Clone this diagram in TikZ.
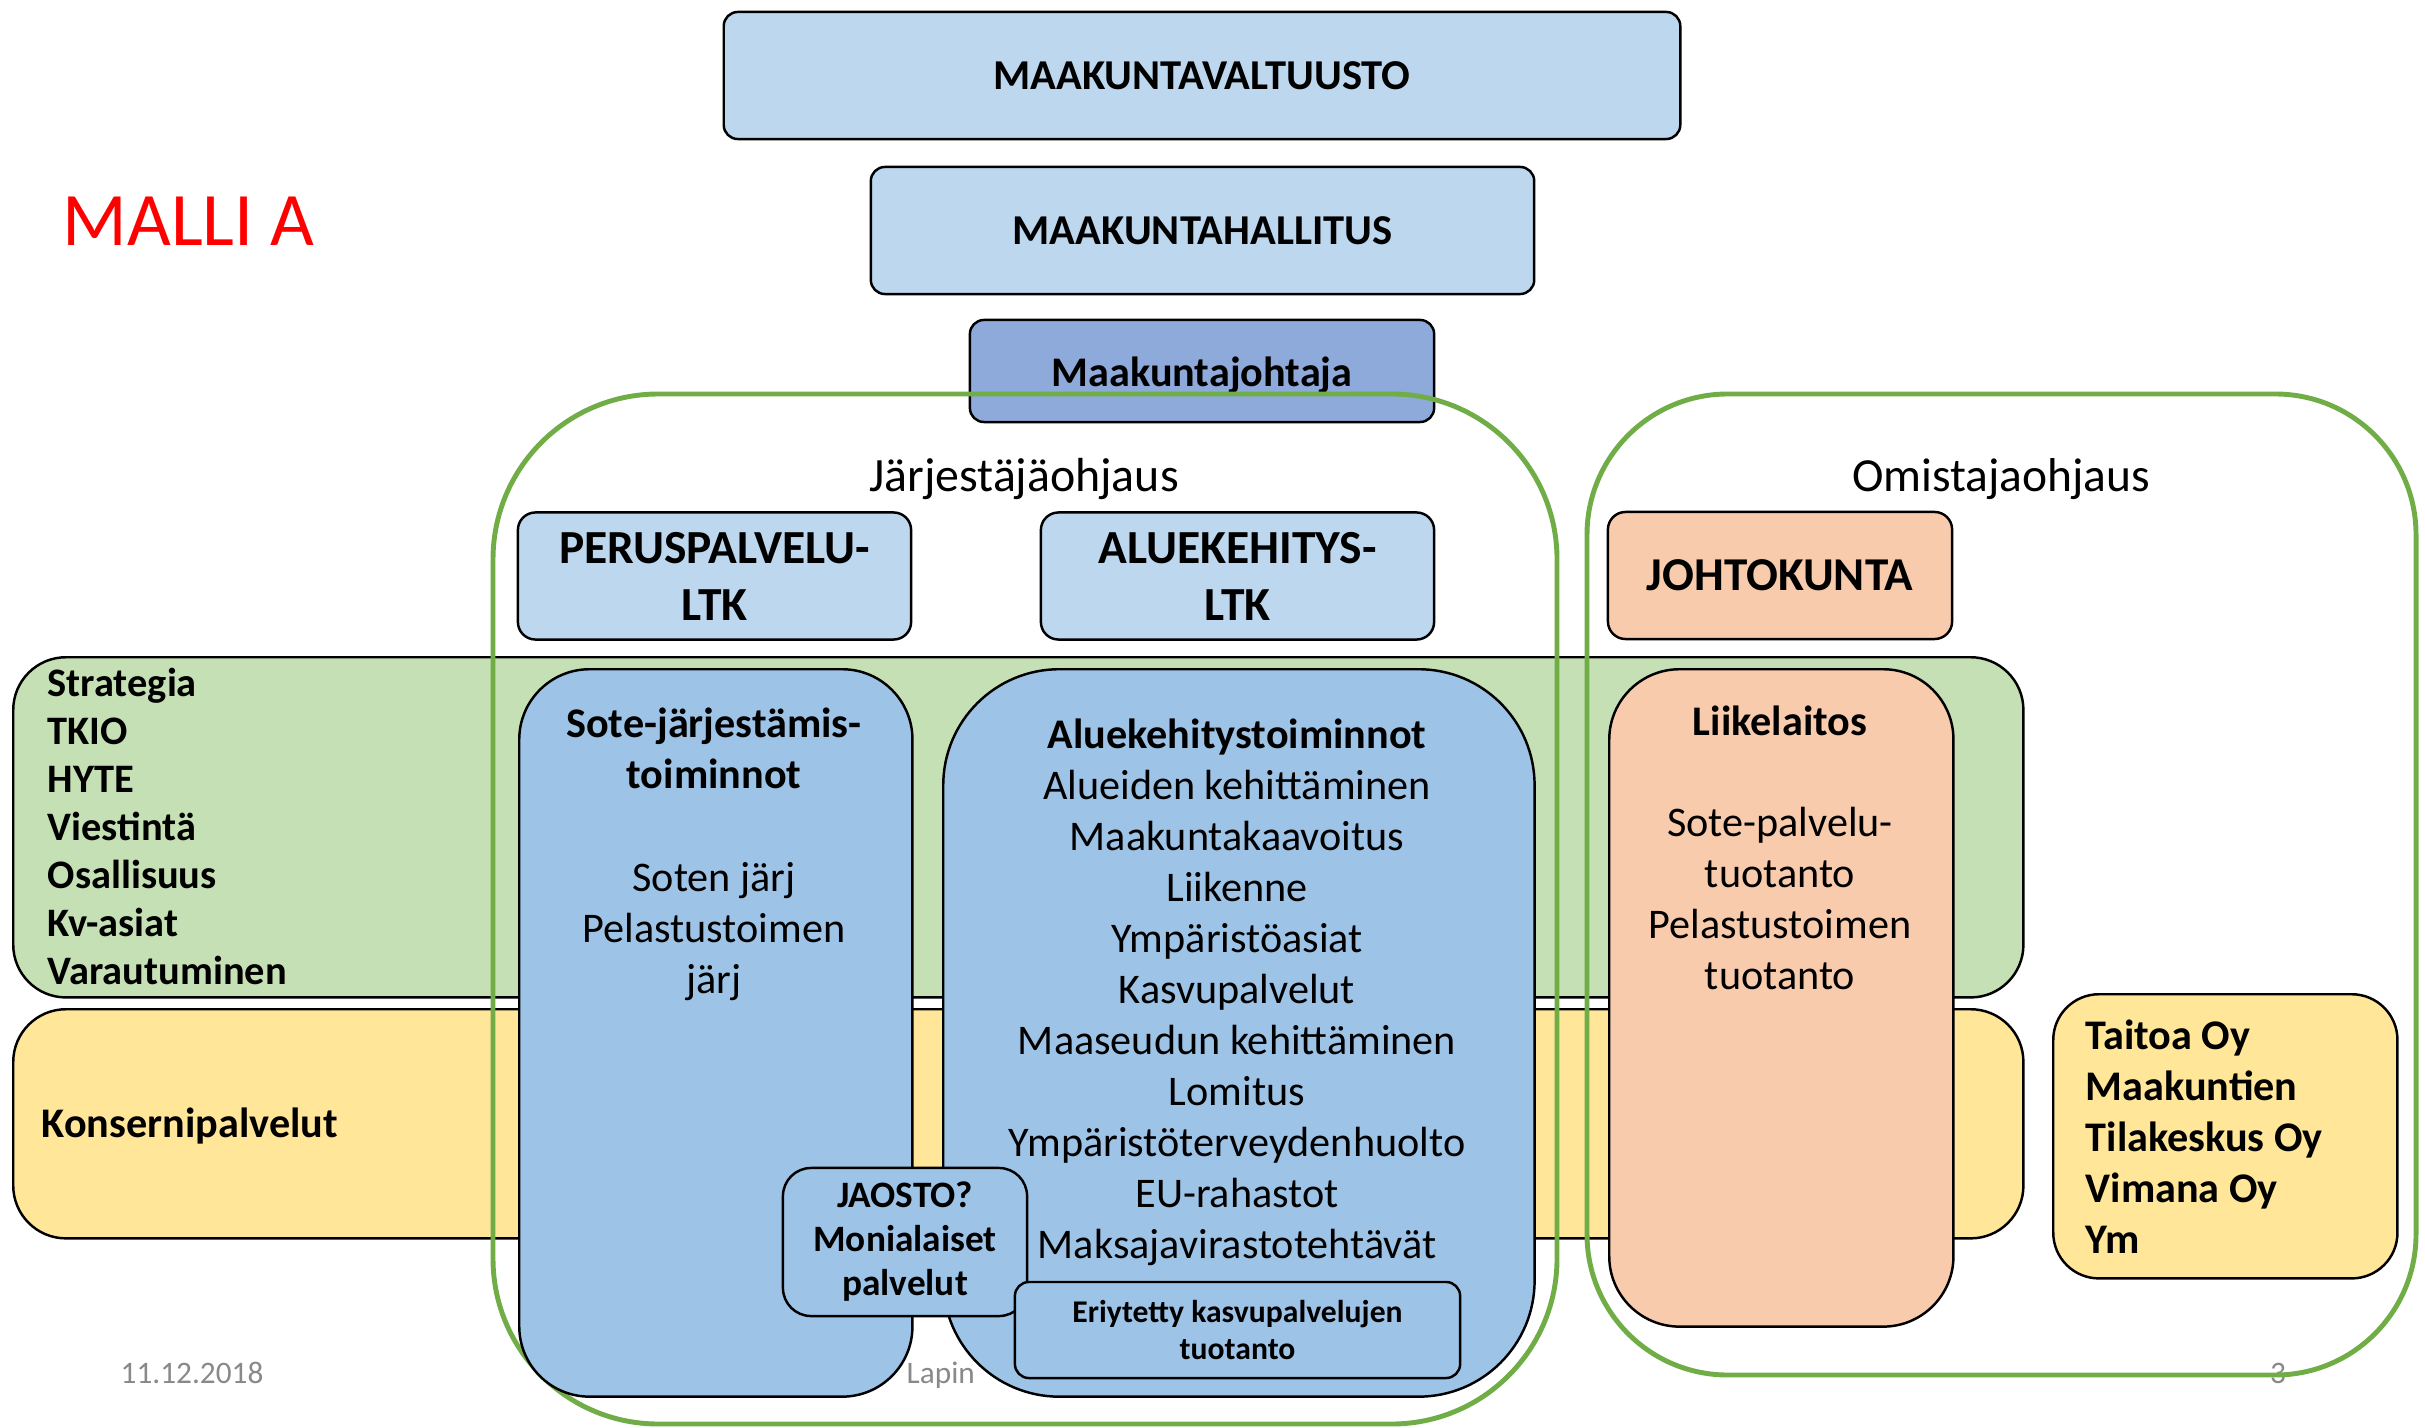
\documentclass[tikz,border=0pt]{standalone}
\usepackage{fontspec}
\setmainfont{Carlito}

\definecolor{topblue}{HTML}{BDD7EE}
\definecolor{midblue}{HTML}{9DC3E6}
\definecolor{darkblue}{HTML}{8EAADB}
\definecolor{bandgreen}{HTML}{C5E0B4}
\definecolor{bandyellow}{HTML}{FFE699}
\definecolor{peach}{HTML}{F8CBAD}
\definecolor{linegreen}{HTML}{70AD47}
\definecolor{footgray}{HTML}{898989}

\begin{document}
\begin{tikzpicture}[x=0.01cm,y=-0.01cm,
  box/.style={draw=black,line width=0.7pt,inner sep=0pt,align=center},
  topbox/.style={box,fill=topblue,rounded corners=4pt,minimum height=1.27cm,font=\fontsize{12.1}{14.5}\selectfont\bfseries},
  ltkbox/.style={box,fill=topblue,rounded corners=5pt,minimum width=3.93cm,minimum height=1.27cm,font=\fontsize{13.5}{16.2}\selectfont\bfseries},
  band/.style={box,rounded corners=15pt,minimum width=20.09cm,anchor=north west},
  tallbox/.style={box,anchor=north west},
  frame/.style={draw=linegreen,line width=1.4pt},
  head/.style={anchor=base,font=\fontsize{12}{14.5}\selectfont\bfseries},
  body/.style={anchor=base,font=\fontsize{12}{14.5}\selectfont},
  listtxt/.style={anchor=base west,inner sep=0pt,font=\fontsize{11.5}{14}\selectfont\bfseries},
  foot/.style={anchor=base,text=footgray,font=\fontsize{8.9}{11}\selectfont}]
\useasboundingbox (0,0) rectangle (2425,1428);

% Footer
\node[foot] (date) at (192,1383) {11.12.2018};
\node[foot,anchor=base west,inner sep=0pt] (lapin) at (906,1383) {Lapin};
\node[foot] (page) at (2278,1383) {3};

% Title
\node[anchor=base west,inner sep=0pt,text=red,font=\fontsize{21.5}{25}\selectfont] (malli) at (62,246) {MALLI A};

% Top of the organisation
\node[topbox,minimum width=9.56cm] (valtuusto) at (1202,75.5) {MAAKUNTAVALTUUSTO};
\node[topbox,minimum width=6.63cm] (hallitus) at (1202.5,230.5) {MAAKUNTAHALLITUS};
\node[box,fill=darkblue,rounded corners=4pt,minimum width=4.64cm,minimum height=1.02cm,
  text height=11.5pt,text depth=2.6pt,
  font=\fontsize{12}{14.5}\selectfont\bfseries] (johtaja) at (1202,371) {Maakuntajohtaja};

% Bands
\node[band,fill=bandgreen,minimum height=3.40cm] (green) at (12,656) {};
\node[band,fill=bandyellow,minimum height=2.29cm] (yellow) at (12,1008) {};
\foreach \t [count=\i] in {Strategia,TKIO,HYTE,Viestintä,Osallisuus,Kv-asiat,Varautuminen}
  \node[listtxt] (strat\i) at (47,{648+48*\i}) {\t};
\node[listtxt,font=\fontsize{12}{14.5}\selectfont\bfseries] (konserni) at (41,1137) {Konsernipalvelut};

% Ohjaus frames
\draw[frame,rounded corners=47pt] (493,394) rectangle (1557,1424);
\draw[frame,rounded corners=40pt] (1587,394) rectangle (2416,1375);
\node[anchor=base,font=\fontsize{13.6}{16}\selectfont] (jarj) at (1024,492) {Järjestäjäohjaus};
\node[anchor=base,font=\fontsize{13.5}{16}\selectfont] (omist) at (2001,492) {Omistajaohjaus};

% Lautakunnat
\node[ltkbox] (perus) at (714.5,576) {PERUSPALVELU-\\LTK};
\node[ltkbox] (alueltk) at (1237.5,576) {ALUEKEHITYS-\\LTK};
\node[ltkbox,fill=peach,minimum width=3.44cm,font=\fontsize{13.4}{16}\selectfont\bfseries] (johtokunta) at (1780,575.5) {JOHTOKUNTA};

% Toiminnot
\node[tallbox,fill=midblue,rounded corners=20pt,minimum width=3.93cm,minimum height=7.27cm] (sote) at (518,668) {};
\node[head,align=center] (sotehead) at (714,788) {Sote-järjestämis-\\toiminnot};
\foreach \t [count=\i] in {Soten järj,Pelastustoimen,järj}
  \node[body] (sote\i) at (714,{840+51*\i}) {\t};

\node[tallbox,fill=midblue,rounded corners=33pt,minimum width=5.91cm,minimum height=7.27cm] (alue) at (942,668) {};
\node[head] (aluehead) at (1237,748) {Aluekehitystoiminnot};
\foreach \t [count=\i] in {Alueiden kehittäminen,Maakuntakaavoitus,Liikenne,Ympäristöasiat,Kasvupalvelut,
  Maaseudun kehittäminen,Lomitus,Ympäristöterveydenhuolto,EU-rahastot,Maksajavirastotehtävät}
  \node[body] (alue\i) at (1237,{748+51*\i}) {\t};

\node[tallbox,fill=peach,rounded corners=20pt,minimum width=3.44cm,minimum height=6.57cm] (liike) at (1608,668) {};
\node[head] (liikehead) at (1780,735) {Liikelaitos};
\foreach \t [count=\i] in {Sote-palvelu-,tuotanto,Pelastustoimen,tuotanto}
  \node[body] (liike\i) at (1780,{785+51*\i}) {\t};

% Yhtiöt
\node[tallbox,fill=bandyellow,rounded corners=13pt,minimum width=3.44cm,minimum height=2.84cm] (yhtiot) at (2052,993) {};
\foreach \t [count=\i] in {Taitoa Oy,Maakuntien,Tilakeskus Oy,Vimana Oy,Ym}
  \node[listtxt,font=\fontsize{12}{14.5}\selectfont\bfseries] (yhtio\i) at (2085,{998+51*\i}) {\t};

% Small boxes
\node[box,fill=midblue,rounded corners=8pt,minimum width=2.44cm,minimum height=1.48cm,
  font=\fontsize{10.6}{12.5}\selectfont\bfseries] (jaosto) at (905,1242) {JAOSTO?\\Monialaiset\\palvelut};
\node[box,fill=midblue,rounded corners=4pt,minimum width=4.45cm,minimum height=0.96cm,
  font=\fontsize{9}{10.5}\selectfont\bfseries] (eriytetty) at (1237.5,1330) {Eriytetty kasvupalvelujen\\tuotanto};
\end{tikzpicture}
\end{document}
